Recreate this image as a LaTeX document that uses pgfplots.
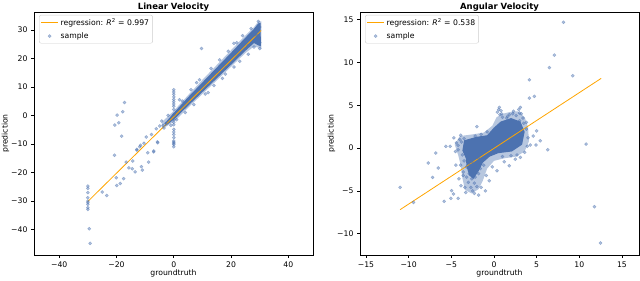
\documentclass[border=0pt]{standalone}
\usepackage{fontspec}
\setmainfont{DejaVu Sans}
\usepackage{pgfplots}
\pgfplotsset{compat=1.18}
\definecolor{pblue}{RGB}{76,114,176}
\definecolor{regor}{RGB}{255,165,0}
\definecolor{lgray}{RGB}{204,204,204}
\pgfplotsset{
  every axis title shift=0pt,
  mystyle/.style={
    scale only axis, width=279bp, height=243bp,
    axis line style={line width=0.6bp},
    tick align=outside, xtick pos=left, ytick pos=left,
    major tick length=3bp,
    tick style={black, line width=0.6bp},
    ticklabel style={font=\fontsize{7.7bp}{9bp}\selectfont},
    xlabel style={font=\fontsize{7.7bp}{9bp}\selectfont, at={(axis description cs:0.5,-0.058)}, anchor=north, inner sep=0pt},
    ylabel style={font=\fontsize{7.7bp}{9bp}\selectfont, at={(axis description cs:-0.088,0.5)}, anchor=south, inner sep=0pt},
    title style={font=\bfseries\fontsize{8.5bp}{10bp}\selectfont, at={(axis description cs:0.5,1.012)}, anchor=base, inner sep=0pt, yshift=0pt},
    legend style={at={(0.018,0.988)}, anchor=north west, draw=lgray, rounded corners=2bp,
      font=\fontsize{7.7bp}{9bp}\selectfont, inner sep=1.5bp, row sep=1.5bp},
    legend cell align=left,
    xlabel={groundtruth}, ylabel={prediction},
  },
  samp/.style={only marks, mark=*, mark size=1.6bp, mark options={draw=pblue, fill=pblue, opacity=0.45}},
  dense/.style={draw=none, fill=pblue, forget plot},
  halo/.style={draw=none, fill=pblue, fill opacity=0.4, forget plot},
  regl/.style={regor, line width=0.8bp, no marks},
}
\begin{document}
\begin{tikzpicture}
\useasboundingbox (0,0) rectangle (640bp,281bp);
% ---------------- Linear Velocity ----------------
\begin{axis}[mystyle, at={(34bp,26bp)}, anchor=south west,
  title={Linear Velocity},
  xmin=-48.8, xmax=48.6, ymin=-49.0, ymax=36.3,
  xtick={-40,-20,0,20,40}, xticklabels={−40,−20,0,20,40},
  ytick={-40,-30,-20,-10,0,10,20,30}, yticklabels={−40,−30,−20,−10,0,10,20,30}]
\addlegendimage{regl}
\addlegendentry{regression: \textit{R}\textsuperscript{2} = 0.997}
\addplot[halo] coordinates {
(-4.2,-2.4) (0,1.6) (5,7.1) (10,12.5) (15,17.7) (20,22.9) (25,28.1) (28,31.0) (29.5,33.0) (30.6,33.0)
(30.6,23.4) (29.5,23.8) (28,24.2) (25,21.9) (20,17.1) (15,12.3) (10,7.5) (5,2.7) (0,-2.3) (-4.2,-4.8)} --cycle;
\addplot[dense] coordinates {
(-3,-2.6) (0,0.9) (5,6.4) (10,11.6) (15,16.8) (20,22.0) (25,27.3) (28,30.4) (29.5,32.3) (30.3,32.5)
(30.4,24.2) (29.5,24.6) (28,25.4) (25,22.7) (20,17.8) (15,13.0) (10,8.2) (5,3.4) (0,-1.5) (-3,-3.8)} --cycle;
\addplot[samp] coordinates {
(2,5.5) (4,1) (6,9) (7,3.8) (9,12.5) (11,7.5) (13,16.5) (14,10.5) (16,19.5) (17,13) (19,22.5) (21,17)
(22,25.5) (23,19) (24,28) (26,21.5) (27,30.5) (28,24) (29,28) (30,23.5) (30,31) (30,25.5) (29.5,33)
(26,24.5) (18,14.5) (12,8) (8,11.5) (3,5) (1,-1.5) (-2,0) (-1,-3.5) (21,25.3) (9.7,23.5)
(0,9) (0,8.2) (0,7.4) (0,6.5) (0,5.6) (0,4.8) (0,4) (0,3.2) (0,2.1) (0,0.35) (0,-1.4) (0,-2.4) (0,-3.3)
(0,-4.9) (0,-5.8) (0,-6.7) (0,-7.8) (0,-9.0) (0,-9.4) (0,-9.8) (0,-10.2) (0,-11.0)
(-20.7,-14.0) (-16.6,-16.4) (-15.7,-18.4) (-14.5,-18.7) (-14.3,-16.0) (-13.5,-19.8) (-12.9,-11.9)
(-11.9,-11.0) (-11.3,-18.0) (-11.0,-19.2) (-10.4,-9.8) (-9.1,-13.1) (-8.8,-16.4) (-7.0,-12.8)
(-5.6,-9.6) (-20.1,-21.9) (-19.9,-24.6) (-18.7,-23.9) (-17.5,-22.2) (-25.0,-26.9) (-23.4,-28.1)
(-30,-24.8) (-30,-25.6) (-30,-27.1) (-30,-28.9) (-30,-30.1) (-30,-30.6) (-30,-31.2) (-30,-32.4)
(-30,-33.0) (-29.5,-39.8) (-29.2,-44.9)
(-17.2,4.5) (-19.8,0.1) (-17.8,1.3) (-20.6,-3.4) (-19.2,-2.6) (-18.2,-7.3)
(-9.6,-7.6) (-7.8,-6.7) (-6.1,-4.7) (-4.9,-3.7) (-3.7,-3.5) (-2.8,-2.8) (-11.6,-10.5) (-12.9,-12.2)
(-5.7,-9.3) (-7.0,-12.5) (-4.2,-2.0) (-3.4,-4.4)};
\addlegendentry{sample}
\addplot[regl, forget plot] coordinates {(-30,-30.2) (30.5,29.8)};
\end{axis}
% ---------------- Angular Velocity ----------------
\begin{axis}[mystyle, at={(360bp,26bp)}, anchor=south west,
  title={Angular Velocity},
  xmin=-15.7, xmax=17.0, ymin=-12.5, ymax=15.9,
  xtick={-15,-10,-5,0,5,10,15}, xticklabels={−15,−10,−5,0,5,10,15},
  ytick={-10,-5,0,5,10,15}, yticklabels={−10,−5,0,5,10,15}]
\addlegendimage{regl}
\addlegendentry{regression: \textit{R}\textsuperscript{2} = 0.538}
\addplot[halo] coordinates {
(-4.6,0.4) (-4.0,1.4) (-2.5,1.6) (-1.2,1.8) (-0.2,2.6) (0.3,3.6) (1.0,4.0) (1.8,4.2) (2.8,4.3)
(3.6,3.6) (4.0,2.4) (4.1,0.8) (3.6,-0.4) (2.6,-1.0) (1.2,-1.2) (0.0,-1.5) (-0.8,-2.4) (-1.3,-3.8)
(-1.8,-4.8) (-2.6,-5.3) (-3.4,-4.9) (-3.7,-3.5) (-3.9,-2.0) (-4.2,-0.8)} --cycle;
\addplot[dense] coordinates {
(-3.5,0.9) (-2.1,1.3) (-0.8,1.5) (0,2.4) (0.8,3.1) (2.0,3.5) (3.1,3.1) (3.6,1.9) (3.3,0.4) (2.1,-0.4)
(0.5,-0.6) (-0.5,-1.0) (-1.3,-1.7) (-1.8,-2.7) (-2.4,-3.6) (-2.9,-3.2) (-3.2,-2.2) (-3.3,-1.2) (-3.7,-0.3)} --cycle;
\addplot[samp] coordinates {
(8.14,14.7) (7.08,10.86) (6.5,9.4) (9.24,8.45) (4.15,7.98) (4.73,6.04) (4.15,5.84) (3.09,4.75)
(0.63,4.75) (0.82,4.36) (0.7,3.9) (0.55,4.5) (0.9,4.0) (0.4,4.2) (1.0,3.6)
(2.3,4.3) (2.9,4.5) (3.2,4.0) (1.8,3.9) (2.6,3.8) (3.4,3.5) (3.8,3.0) (3.0,4.1) (2.2,4.0) (1.5,3.5)
(10.8,0.47) (11.78,-6.85) (12.48,-11.1) (-11.0,-4.6) (-9.43,-6.35) (-5.83,-6.23) (-5.05,-5.88)
(-4.73,-5.37) (-4.97,-4.98) (-7.71,-1.75) (-6.81,-0.58) (-6.53,-2.34) (-5.63,0.2) (-5.13,0.2)
(-4.46,-1.99) (-7.2,-3.43) (-4.19,-5.88) (-3.87,-4.4) (-0.55,-3.82) (0.35,-2.65) (1.8,-2.07)
(3.09,-1.09) (4.26,0.35) (4.93,0.35) (5.43,0.85) (6.3,-0.2)
(-3.8,0.7) (-3.5,1.1) (-4.2,0.3) (-2.2,1.4) (-1.5,1.6) (-0.8,1.9) (1,2.2) (2,3.3)
(3.5,2.9) (3.8,2.2) (4,1.2) (3.6,-0.5) (2.5,-1.3) (1.2,-1.6) (-0.2,-2.2) (-1.8,-1.2) (-2.6,-1.6)
(-4.0,1.0) (-4.4,0.6) (-3.9,1.5) (-4.7,1.2) (-4.2,-0.2) (-3.7,-0.8)
(-3.5,-1.5) (-3.2,-2.2) (-2.9,-3.0) (-2.6,-3.6) (-2.3,-4.1) (-2.0,-4.5) (-2.7,-4.6) (-3.0,-4.0)
(-3.6,-3.2) (-2.2,-3.4) (-1.8,-3.0) (-1.6,-2.4) (-3.9,-2.0) (-2.5,-5.0) (-3.3,-5.2) (-4.1,-3.6)
(-3.2,-3.4) (-2.3,-5.3) (-3.4,-4.6) (-1.5,-4.6) (-0.9,-3.2) (-2.4,-2.8) (-3.6,-2.8) (5.0,2.0)
(4.6,1.4) (2.0,-0.9) (-4.5,-0.4) (-2.0,2.5) (-1.0,-5.0) (-1.8,-5.5) (0.9,2.9) (1.6,3.7) (3.0,3.2)
(-1.2,-2.0) (-2.8,-2.0) (1.0,-1.0) (3.9,0.2) (2.7,-0.8)};
\addlegendentry{sample}
\addplot[regl, forget plot] coordinates {(-11.0,-7.2) (12.56,8.14)};
\end{axis}
\end{tikzpicture}
\end{document}
